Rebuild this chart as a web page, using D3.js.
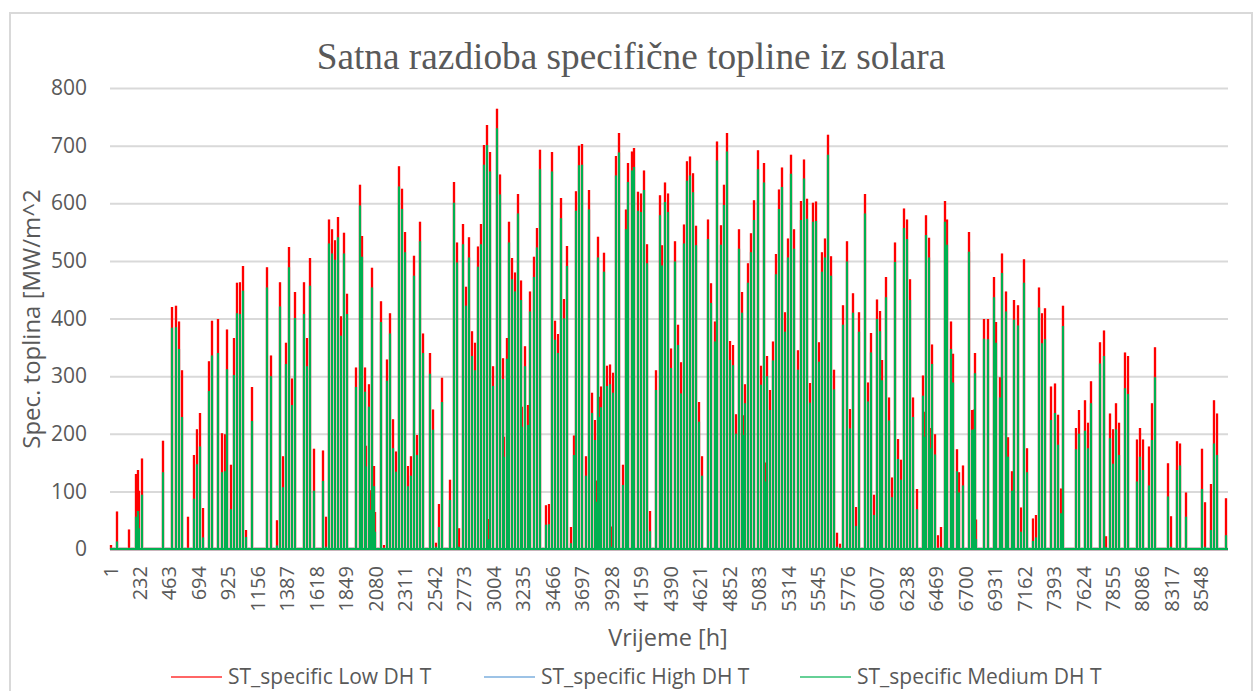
<!doctype html>
<html>
<head>
<meta charset="utf-8">
<title>Satna razdioba specifične topline iz solara</title>
<script src="https://d3js.org/d3.v7.min.js"></script>
<style>
  html, body { margin: 0; padding: 0; background: #fff; overflow: hidden; }
  text { font-family: "Open Sans", sans-serif; fill: #595959; }
</style>
</head>
<body>
<script>
// daily solar peaks: hour of the peak and height per series
var peakHours = [
  6,55,152,202,222,228,252,418,486,515,541,562,611,658,682,705,729,776,802,849,
  878,901,919,946,951,969,995,1019,1042,1066,1115,1233,1259,1309,1332,1356,1379,1403,1426,1450,
  1520,1543,1567,1596,1666,1690,1713,1739,1762,1786,1807,1809,1833,1857,1927,1956,1976,2000,2005,2029,
  2037,2052,2070,2078,2122,2146,2169,2193,2216,2242,2264,2290,2314,2337,2361,2384,2408,2431,2457,2506,
  2530,2553,2577,2600,2665,2697,2719,2737,2766,2794,2817,2841,2864,2888,2911,2935,2958,2963,2982,3005,
  3031,3055,3078,3089,3110,3128,3149,3175,3201,3222,3227,3251,3274,3295,3321,3345,3368,3417,3441,3464,
  3488,3511,3538,3561,3585,3611,3634,3652,3678,3702,3728,3751,3777,3801,3808,3824,3843,3851,3871,3897,
  3921,3931,3944,3968,3992,4018,4041,4062,4088,4109,4135,4161,4185,4206,4235,4281,4307,4328,4352,4375,
  4399,4425,4448,4474,4495,4521,4544,4568,4591,4615,4641,4688,4712,4738,4759,4785,4808,4832,4855,4881,
  4902,4925,4926,4951,4967,4978,4999,5025,5049,5075,5098,5122,5143,5147,5169,5192,5216,5239,5265,5289,
  5312,5336,5363,5388,5411,5435,5458,5482,5505,5529,5552,5576,5599,5623,5646,5670,5696,5719,5746,5772,
  5795,5819,5842,5866,5913,5936,5960,5985,6007,6032,6053,6079,6103,6108,6129,6152,6176,6202,6223,6247,
  6270,6294,6320,6369,6377,6396,6416,6432,6440,6461,6487,6513,6539,6562,6586,6609,6633,6656,6680,6727,
  6753,6771,6779,6785,6852,6876,6923,6946,6970,6993,7017,7040,7064,7087,7111,7137,7158,7184,7234,7257,
  7283,7304,7327,7377,7401,7427,7448,7471,7571,7594,7643,7667,7690,7761,7785,7808,7834,7858,7881,7908,
  7952,7979,8050,8074,8097,8144,8168,8191,8291,8317,8364,8387,8434,8554,8577,8625,8648,8675,8745
];
var lowPeak = [
  7,65,34,130,137,101,157,188,420,422,395,310,56,163,208,236,71,326,396,399,
  201,199,381,146,133,366,462,463,491,33,281,489,336,50,463,161,358,524,296,446,
  463,366,505,174,171,56,572,555,536,576,312,404,549,443,315,632,543,315,179,286,
  102,488,144,64,430,7,329,409,225,169,664,625,550,144,161,509,198,568,374,340,
  242,11,78,297,120,637,532,36,564,455,541,378,358,525,564,701,736,52,689,317,
  764,650,331,195,366,568,505,480,616,466,247,352,250,447,507,557,693,76,78,689,
  396,373,609,434,526,38,197,621,700,703,161,623,271,224,119,542,264,282,514,318,
  320,39,306,682,722,146,589,670,690,696,620,617,657,529,66,310,614,527,636,617,
  348,534,389,324,563,673,681,652,561,255,161,572,461,395,707,562,632,722,361,354,
  234,555,378,446,232,286,496,548,605,692,318,670,150,335,276,360,512,624,662,411,
  539,684,555,345,604,676,608,288,601,603,359,515,539,719,508,311,28,9,423,534,
  243,444,73,411,616,289,375,94,433,413,328,472,263,257,124,532,191,155,591,572,
  468,263,104,301,238,579,540,210,355,199,24,38,604,572,395,339,173,133,145,550,
  241,242,340,51,399,399,472,394,298,513,447,194,135,432,423,72,503,175,53,59,
  454,409,418,282,287,233,105,422,210,241,258,219,291,359,379,22,235,208,253,219,
  341,335,190,210,190,178,253,350,149,57,187,183,98,174,81,113,258,235,88
];
var mediumPeak = [
  1,13,1,56,66,36,94,133,384,385,347,229,1,87,147,178,20,274,336,340,
  133,135,312,69,62,302,409,408,448,21,222,454,300,6,421,107,321,489,250,401,
  408,317,457,101,118,4,530,513,502,541,279,370,513,408,281,596,507,273,143,247,
  68,454,109,30,394,1,292,374,175,134,629,590,515,109,127,474,163,534,340,304,
  207,4,38,255,85,601,497,4,529,422,506,335,310,490,529,667,701,17,655,283,
  730,615,295,160,330,532,468,447,582,432,212,317,215,412,472,523,659,42,43,655,
  363,340,574,400,491,10,163,587,666,667,127,589,236,189,82,506,229,246,481,283,
  286,4,271,648,688,111,555,637,657,663,587,585,623,496,31,276,579,492,602,585,
  314,499,354,270,530,639,648,619,527,221,127,538,427,360,674,528,597,690,328,319,
  200,521,344,410,198,253,462,515,571,659,285,636,117,300,241,327,477,590,628,377,
  506,651,521,311,571,643,573,254,568,569,325,481,506,684,474,277,4,1,389,499,
  209,410,40,377,582,256,341,59,399,378,293,437,223,221,90,498,156,120,557,538,
  432,229,69,266,195,545,506,175,321,164,1,4,568,528,347,289,135,98,110,516,
  207,208,305,17,365,364,437,358,263,479,412,160,101,398,388,30,462,133,14,20,
  419,357,364,224,236,181,62,387,173,200,205,175,253,322,335,3,192,148,208,163,
  279,269,117,160,137,110,189,298,91,4,137,145,56,104,4,33,183,163,24
];
var highPeak = []; // never shows in the picture, medium covers it

var yTicks = [0, 100, 200, 300, 400, 500, 600, 700, 800];
var xTickLabels = [1, 232, 463, 694, 925, 1156, 1387, 1618, 1849, 2080, 2311, 2542, 2773, 3004, 3235,
  3466, 3697, 3928, 4159, 4390, 4621, 4852, 5083, 5314, 5545, 5776, 6007, 6238, 6469, 6700, 6931,
  7162, 7393, 7624, 7855, 8086, 8317, 8548];
var legendNames = ["ST_specific Low DH T", "ST_specific High DH T", "ST_specific Medium DH T"];
var lineColors = ["#ff0000", "#5b9bd5", "#00b050"];

var width = 1259, height = 691;
var x = d3.scaleLinear().domain([1, 8760]).range([110, 1228]);
var y = d3.scaleLinear().domain([0, 800]).range([549, 88]);

var svg = d3.select("body").append("svg")
  .attr("width", width)
  .attr("height", height)
  .style("display", "block");

// chart frame, runs off the bottom of the image
svg.append("rect")
  .attr("x", 10).attr("y", 13)
  .attr("width", 1242).attr("height", 700)
  .attr("fill", "#fff")
  .attr("stroke", "#d9d9d9")
  .attr("stroke-width", 2);

svg.append("text")
  .attr("x", 631).attr("y", 69)
  .attr("text-anchor", "middle")
  .style("font-family", "'Liberation Serif', serif")
  .style("font-size", "37.3px")
  .text("Satna razdioba specifične topline iz solara");

// gridlines and y labels
var yAxis = svg.append("g")
  .attr("transform", "translate(110,0)")
  .call(d3.axisLeft(y).tickValues(yTicks).tickSize(-1118).tickPadding(23));
yAxis.select(".domain").remove();
yAxis.selectAll("line").attr("stroke", "#d9d9d9").attr("stroke-width", 2);
yAxis.selectAll("text").style("font-size", "21px").attr("fill", "#595959");

// snapped to whole pixels so the 2px spikes stay crisp
var line = d3.line().x(function(d) { return Math.round(x(d[0])); }).y(function(d) { return y(d[1]); });

// each peak goes up from zero and back down, like the hourly line it stands for
function spikes(values) {
  var pts = [[1, 0]];
  values.forEach(function(v, i) {
    pts.push([peakHours[i], 0], [peakHours[i], v], [peakHours[i], 0]);
  });
  pts.push([8760, 0]);
  return pts;
}

var series = [
  { values: lowPeak, color: lineColors[0], halo: "#ff0000" },
  { values: highPeak, color: lineColors[1], halo: "#5b9bd5" },
  { values: mediumPeak, color: lineColors[2], halo: "#8f8f85" }
];

series.forEach(function(s) {
  var path = line(spikes(s.values));
  svg.append("path")
    .attr("d", path)
    .attr("fill", "none")
    .attr("stroke", s.halo)
    .attr("stroke-opacity", 0.22)
    .attr("stroke-width", 3.6)
    .attr("stroke-linejoin", "bevel");
  svg.append("path")
    .attr("d", path)
    .attr("fill", "none")
    .attr("stroke", s.color)
    .attr("stroke-width", 2)
    .attr("stroke-linejoin", "bevel");
});

// x labels, rotated
var xAxis = svg.append("g")
  .attr("transform", "translate(0,549)")
  .call(d3.axisBottom(x).tickValues(xTickLabels).tickSize(0).tickFormat(d3.format("d")));
xAxis.select(".domain").remove();
xAxis.selectAll("text")
  .attr("transform", "rotate(-90)")
  .attr("text-anchor", "end")
  .attr("x", -17)
  .attr("y", 0)
  .attr("dy", "0.35em")
  .style("font-size", "20px")
  .attr("fill", "#595959");

svg.append("text")
  .attr("x", 668).attr("y", 646)
  .attr("text-anchor", "middle")
  .style("font-size", "23.5px")
  .text("Vrijeme [h]");

svg.append("text")
  .attr("transform", "translate(40,319) rotate(-90)")
  .attr("text-anchor", "middle")
  .style("font-size", "24px")
  .text("Spec. toplina [MW/m^2");

// legend
var legendX = [171, 484, 800];
var legend = svg.selectAll(".legend")
  .data(legendNames)
  .enter().append("g")
  .attr("class", "legend")
  .attr("transform", function(d, i) { return "translate(" + legendX[i] + ",677)"; });
legend.append("line")
  .attr("x1", 0).attr("x2", 51)
  .attr("stroke", function(d, i) { return lineColors[i]; })
  .attr("stroke-opacity", 0.6)
  .attr("stroke-width", 2);
legend.append("text")
  .attr("x", 57).attr("y", 7)
  .style("font-size", "21px")
  .text(function(d) { return d; });

if (peakHours.length !== lowPeak.length || peakHours.length !== mediumPeak.length) {
  console.error("length mismatch", peakHours.length, lowPeak.length, mediumPeak.length);
}
</script>
</body>
</html>
